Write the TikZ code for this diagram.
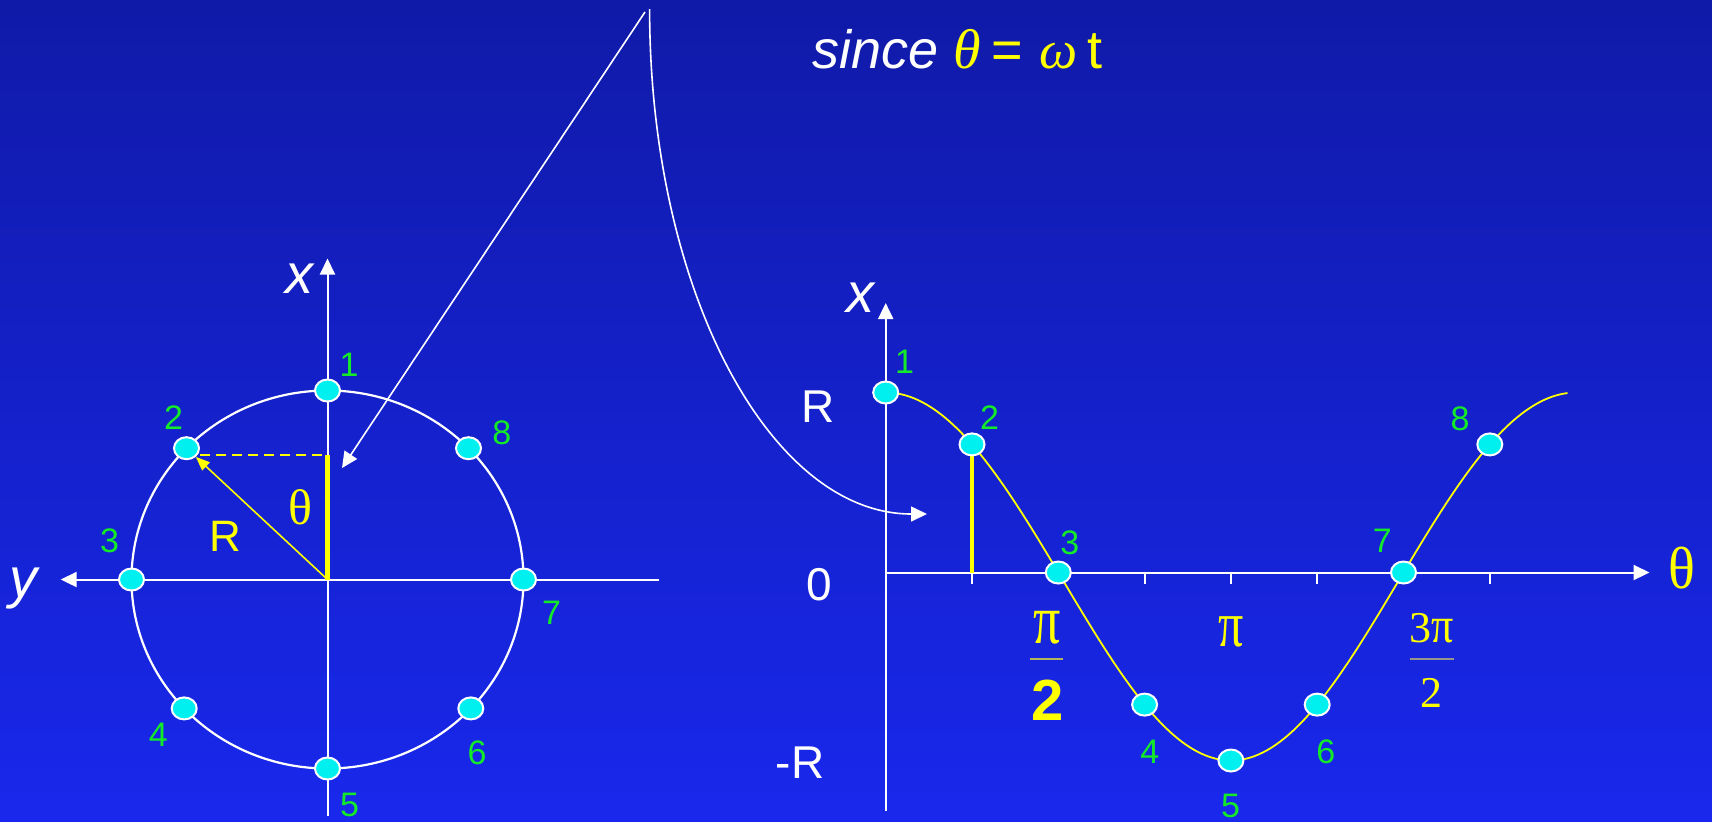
\documentclass[tikz,border=0pt]{standalone}
\usepackage{graphicx}
\usepackage{fontspec}
\setmainfont{Liberation Sans}
\newfontfamily\grk{Liberation Serif}
\usetikzlibrary{arrows.meta,shapes.geometric}
\definecolor{bgtop}{RGB}{16,26,168}
\definecolor{bgbot}{RGB}{25,40,236}
\definecolor{dotc}{RGB}{0,240,240}
\definecolor{numg}{RGB}{20,235,40}
\definecolor{yel}{RGB}{255,255,0}
\definecolor{barol}{RGB}{180,180,90}
\definecolor{bargr}{RGB}{150,150,140}
\newcommand{\fsz}[1]{\fontsize{#1}{#1}\selectfont}
\newcommand{\tallpi}{\scalebox{1}[1.3]{π}}
\begin{document}
\begin{tikzpicture}[x=0.5pt,y=-0.5pt,
  wtip/.style={-{Triangle[length=8pt,width=7.5pt]}},
  axisline/.style={draw=white,line width=1pt,wtip},
  thinwhite/.style={draw=white,line width=0.8pt,wtip},
  dotnode/.style={ellipse,draw=white,line width=1pt,fill=dotc,minimum width=12.5pt,minimum height=11pt,inner sep=0pt},
  num/.style={text=numg,font=\fsz{17},inner sep=0pt},
  wlab/.style={text=white,inner sep=0pt},
  ylab/.style={text=yel,inner sep=0pt},
  thickyel/.style={draw=yel,line width=2.3pt},
  tick/.style={draw=white,line width=1pt}]
\useasboundingbox (0,0) rectangle (1712,821);
\shade[top color=bgtop,bottom color=bgbot] (0,0) rectangle (1712,821);

% ---------- title ----------
\node[wlab,anchor=base west,font=\fsz{27}\itshape] (t1) at (812,68) {since};
\node[ylab,anchor=base west,font=\grk\fsz{28}\itshape] (t2) at (953,68) {θ};
\node[ylab,anchor=base west,font=\fsz{27}] (t3) at (991,68) {=};
\node[ylab,anchor=base west,font=\grk\fsz{27}\itshape] (t4) at (1039,68) {ω};
\node[ylab,anchor=base west,font=\fsz{27}] (t5) at (1087,68) {t};

% ---------- left: circle ----------
\coordinate (O) at (327.5,579.5);
\coordinate (xb) at (327.5,816);
\coordinate (xt) at (327.5,258.5);
\coordinate (yr) at (659,579.5);
\coordinate (yl) at (60.7,579.5);
\draw[axisline] (xb) -- (xt);
\draw[axisline] (yr) -- (yl);
\draw[white,line width=1.1pt] (O) ellipse [x radius=196,y radius=189];
\coordinate (yt) at (327.5,455);
\draw[thickyel] (O) -- (yt);

\node[dotnode] (c1) at (327.5,390.5) {};
\node[dotnode] (c2) at (186.5,448.2) {};
\node[dotnode] (c3) at (131.5,579.5) {};
\node[dotnode] (c4) at (184.2,708.4) {};
\node[dotnode] (c5) at (327.5,768.5) {};
\node[dotnode] (c6) at (470.8,708.4) {};
\node[dotnode] (c7) at (523.5,579.5) {};
\node[dotnode] (c8) at (468.5,448.2) {};

\draw[yel,line width=0.8pt,-{Triangle[length=7pt,width=5.5pt]}] (O) -- (c2);
\draw[yel,line width=0.8pt,dash pattern=on 5pt off 3pt] (c2.east |- yt) -- (yt);

\node[wlab,font=\fsz{28}\itshape] (lx) at (299,279) {x};
\node[wlab,font=\fsz{28}\itshape] (ly) at (24,589) {y};
\node[ylab,font=\fsz{22}] (lR) at (225.5,536.4) {R};
\node[ylab,font=\grk\fsz{25}] (lth) at (300.5,506.8) {θ};

\node[num] (n1) at (349,365) {1};
\node[num] (n2) at (173.5,418) {2};
\node[num] (n3) at (109.7,541) {3};
\node[num] (n4) at (158.3,734.6) {4};
\node[num] (n5) at (349.5,805) {5};
\node[num] (n6) at (477,753) {6};
\node[num] (n7) at (551.6,612.4) {7};
\node[num] (n8) at (501.7,432.7) {8};

% ---------- connecting arrows ----------
\coordinate (d0) at (645,12);
\coordinate (d1) at (342,468);
\draw[thinwhite] (d0) -- (d1);
\coordinate (e0) at (649.6,9);
\coordinate (e1) at (927,514);
\draw[thinwhite] (e0) .. controls (649.6,290) and (770,514) .. (e1);

% ---------- right: graph ----------
\coordinate (A0) at (885.7,572.5);
\coordinate (Ab) at (885.7,811);
\coordinate (At) at (885.7,303);
\coordinate (Ar) at (1649.5,572.5);
\draw[axisline] (Ab) -- (At);
\draw[axisline] (A0) -- (Ar);
\foreach \t in {972,1144.6,1230.9,1317.2,1489.8}
  \draw[tick] (\t,572.5) -- (\t,584);
\draw[thickyel] (972,572.5) -- (972,451);
\draw[yel,line width=0.9pt] plot[domain=885.7:1567.5,samples=150,smooth]
  (\x,{572.5-184*cos((\x-885.7)/86.3*45)+4*cos((\x-885.7)/86.3*45)*cos((\x-885.7)/86.3*45)});

\node[dotnode] (s1) at (885.7,392.5) {};
\node[dotnode] (s2) at (972,444.4) {};
\node[dotnode] (s3) at (1058.3,572.5) {};
\node[dotnode] (s4) at (1144.6,704.6) {};
\node[dotnode] (s5) at (1230.9,760.5) {};
\node[dotnode] (s6) at (1317.2,704.6) {};
\node[dotnode] (s7) at (1403.5,572.5) {};
\node[dotnode] (s8) at (1489.8,444.4) {};

\node[num] (m1) at (904.5,362) {1};
\node[num] (m2) at (989.5,417.4) {2};
\node[num] (m3) at (1069.7,542.6) {3};
\node[num] (m4) at (1149.8,752) {4};
\node[num] (m5) at (1230.5,805.6) {5};
\node[num] (m6) at (1325.9,752) {6};
\node[num] (m7) at (1382.3,540.9) {7};
\node[num] (m8) at (1460,419.2) {8};

\node[wlab,font=\fsz{28}\itshape] (rx) at (860.2,298) {x};
\node[wlab,font=\fsz{23}] (rR) at (818.5,407) {R};
\node[wlab,font=\fsz{23}] (r0) at (818.9,585) {0};
\node[wlab,font=\fsz{23}] (rmR) at (800,762.5) {-R};
\node[ylab,font=\grk\fsz{28}] (rth) at (1682,568) {\scalebox{1}[1.06]{θ}};

% fractions
\node[ylab,font=\grk\fsz{27}] (p1) at (1047.3,628) {\tallpi};
\draw[barol,line width=1.2pt] (1030,659) -- (1063.3,659);
\node[ylab,font=\bfseries\fsz{29}] (p2) at (1047.3,700) {2};
\node[ylab,font=\grk\fsz{25}] (pp) at (1230.7,631.7) {\tallpi};
\node[ylab,font=\grk\fsz{22}] (q1) at (1431.7,628.3) {3\scalebox{1}[1.15]{π}};
\draw[bargr,line width=1.2pt] (1410,659) -- (1454,659);
\node[ylab,font=\grk\fsz{22}] (q2) at (1431.7,693.3) {2};
\end{tikzpicture}
\end{document}
